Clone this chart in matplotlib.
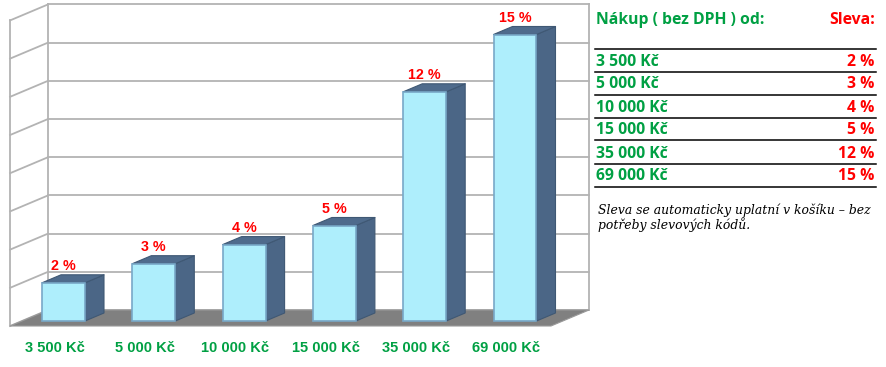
import matplotlib
matplotlib.use("Agg")
import matplotlib.pyplot as plt
from matplotlib.patches import Polygon

# data
categories = ["3 500 Kč", "5 000 Kč", "10 000 Kč", "15 000 Kč", "35 000 Kč", "69 000 Kč"]
discounts = [2, 3, 4, 5, 12, 15]
discount_labels = ["2 %", "3 %", "4 %", "5 %", "12 %", "15 %"]
header_left = "Nákup ( bez DPH ) od:"
header_right = "Sleva:"
note_lines = ["Sleva se automaticky uplatní v košíku – bez", "potřeby slevových kódů."]

GREEN = "#00a043"
RED = "#ff0000"
FRONT = "#aeeefc"
SIDE = "#4b6686"
TOP = "#4f6b8c"
GRID = "#b3b3b3"
FLOOR = "#808080"

W, H = 886, 367
fig = plt.figure(figsize=(W / 100, H / 100), dpi=100)


def fx(px):
    return px / W


def fy(py):
    return 1 - py / H


# chart axes: x in category units, y in percent (bar front plane)
ax = fig.add_axes([0, 0, fx(600), 1])
ax.set_xlim((0 - 63.5) / 90.3, (600 - 63.5) / 90.3)
ax.set_ylim((321 - 367) / 19.1, 321 / 19.1)
ax.axis("off")

DX, DY = 0.4208, 0.838       # full depth vector (data units)
T_FRONT, T_BACK = -5 / 16, 11 / 16
XL, XR = -0.46, 5.53
YMAX = 16
BAR_W = 0.476
BAR_T = 0.5


def P(x, y, t):
    return (x + t * DX, y + t * DY)


# back wall
ax.add_patch(Polygon([P(XL, 0, T_BACK), P(XR, 0, T_BACK), P(XR, YMAX, T_BACK), P(XL, YMAX, T_BACK)],
                     closed=True, facecolor="white", edgecolor="none", zorder=1))
for g in range(0, YMAX + 1, 2):
    a, b = P(XL, g, T_BACK), P(XR, g, T_BACK)
    ax.plot([a[0], b[0]], [a[1], b[1]], color=GRID, lw=1.3, zorder=2)
    c = P(XL, g, T_FRONT)
    ax.plot([c[0], a[0]], [c[1], a[1]], color=GRID, lw=1.3, zorder=2)
for xx in (XL, XR):
    a, b = P(xx, 0, T_BACK), P(xx, YMAX, T_BACK)
    ax.plot([a[0], b[0]], [a[1], b[1]], color=GRID, lw=1.3, zorder=2)
a, b = P(XL, 0, T_FRONT), P(XL, YMAX, T_FRONT)
ax.plot([a[0], b[0]], [a[1], b[1]], color=GRID, lw=1.3, zorder=2)

# floor
ax.add_patch(Polygon([P(XL, 0, T_FRONT), P(XR, 0, T_FRONT), P(XR, 0, T_BACK), P(XL, 0, T_BACK)],
                     closed=True, facecolor=FLOOR, edgecolor="#9a9a9a", lw=0.8, zorder=3))

# bars
for i, v in enumerate(discounts):
    l, r = i - BAR_W / 2, i + BAR_W / 2
    side = [P(r, 0, 0), P(r, 0, BAR_T), P(r, v, BAR_T), P(r, v, 0)]
    top = [P(l, v, 0), P(l, v, BAR_T), P(r, v, BAR_T), P(r, v, 0)]
    ax.add_patch(Polygon(side, closed=True, facecolor=SIDE, edgecolor="#3f5874", lw=0.8,
                         joinstyle="round", zorder=4))
    ax.add_patch(Polygon(top, closed=True, facecolor=TOP, edgecolor="#3f5874", lw=0.8,
                         joinstyle="round", zorder=4))
    ax.bar(i, v, width=BAR_W, bottom=0, color=FRONT, edgecolor="#78a8c8", lw=1.2, zorder=5)
    ax.text(i, v + BAR_T * DY + 0.25, discount_labels[i], color=RED, fontsize=10.3,
            fontweight="bold", family="Liberation Sans", ha="center", va="baseline", zorder=6)
    ax.text(i - 0.095, -1.6, categories[i], color=GREEN, fontsize=10.5, fontweight="bold",
            family="Liberation Sans", ha="center", va="baseline", zorder=6)

# table on the right
TL, TR = 594.5, 876
FS = 11.3
fig.text(fx(596), fy(24.5), header_left, color=GREEN, fontsize=FS, fontweight="bold",
         family="Open Sans", ha="left", va="baseline")
fig.text(fx(874.5), fy(24.5), header_right, color=RED, fontsize=FS, fontweight="bold",
         family="Open Sans", ha="right", va="baseline")
line_y = 48.5
fig.add_artist(plt.Line2D([fx(TL), fx(TR)], [fy(line_y), fy(line_y)], color="black", lw=1.1))
for cat, lab in zip(categories, discount_labels):
    fig.text(fx(596), fy(line_y + 17), cat, color=GREEN, fontsize=FS, fontweight="bold",
             family="Open Sans", ha="left", va="baseline")
    fig.text(fx(874.5), fy(line_y + 17), lab, color=RED, fontsize=FS, fontweight="bold",
             family="Open Sans", ha="right", va="baseline")
    line_y += 23
    fig.add_artist(plt.Line2D([fx(TL), fx(TR)], [fy(line_y), fy(line_y)], color="black", lw=1.1))

for k, line in enumerate(note_lines):
    fig.text(fx(598), fy(214 + 15.5 * k), line, color="black", fontsize=8.9, style="italic",
             family="DejaVu Serif", ha="left", va="baseline")

fig.savefig("out.png", dpi=100)
